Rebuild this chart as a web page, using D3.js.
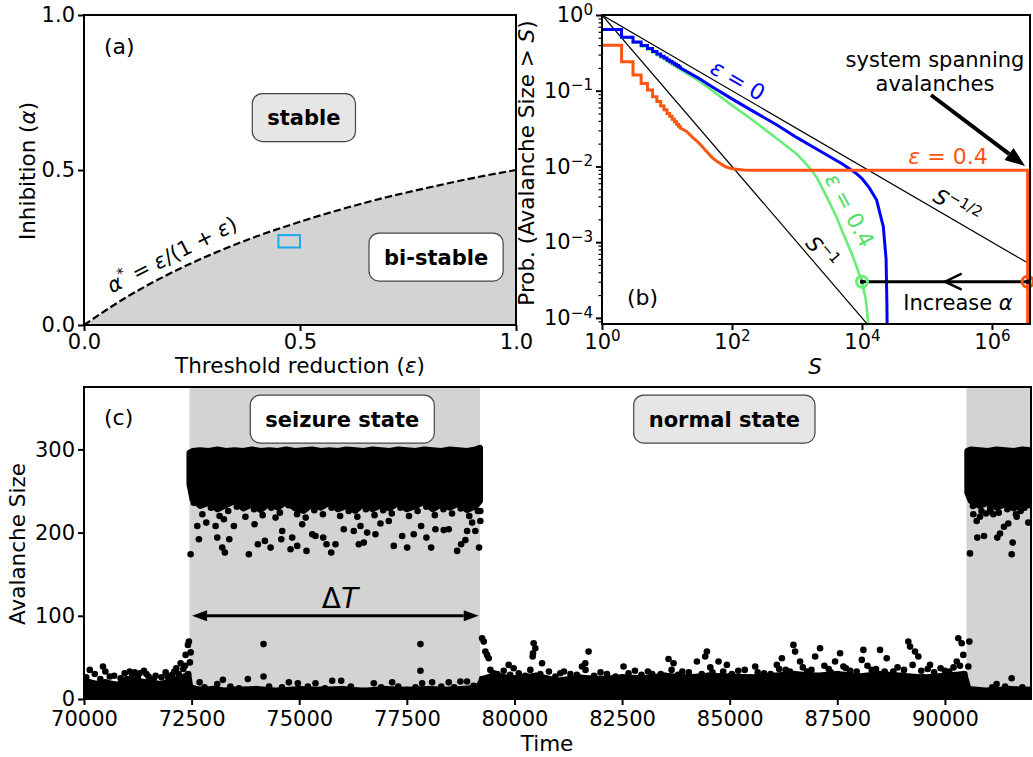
<!DOCTYPE html>
<html>
<head>
<meta charset="utf-8">
<script src="https://cdn.jsdelivr.net/npm/d3@7"></script>
<style>
  body { margin: 0; background: #fff; }
  svg { font-family: "DejaVu Sans", sans-serif; }
</style>
</head>
<body>
<svg id="fig" width="1033" height="757"></svg>
<script>
// ---------- data ----------

// (a) phase boundary alpha* = eps/(1+eps), read at eps = 0, 0.1, ... 1
var boundaryEps = [0, 0.1, 0.2, 0.3, 0.4, 0.5, 0.6, 0.7, 0.8, 0.9, 1.0];
var boundaryAlpha = [0, 0.091, 0.167, 0.231, 0.286, 0.333, 0.375, 0.412, 0.444, 0.474, 0.5];
var markedEps = [0.45, 0.5];
var markedAlpha = [0.25, 0.29];
var ticksA = [0, 0.5, 1];

// (b) avalanche size distributions P(size > S)
var stepSizes = [1, 2, 3, 4, 5, 6, 7, 8, 9, 10, 11, 12, 13, 14, 15];
var blueStepP = [0.645, 0.51, 0.44, 0.395, 0.36, 0.33, 0.305, 0.285, 0.27, 0.255, 0.243, 0.232, 0.223, 0.215, 0.208];
var blueTailS = [16, 20, 30, 50, 100, 200, 500, 1000, 2000, 5000, 8000, 10000, 13000, 16800, 21300, 23500, 24200, 24500];
var blueTailP = [0.2, 0.18, 0.148, 0.112, 0.078, 0.055, 0.035, 0.024, 0.017, 0.0108, 0.0082, 0.0069, 0.0052, 0.0036, 0.0016, 0.0006, 0.00015, 0.00005];
var greenStepP = [0.64, 0.5, 0.43, 0.385, 0.35, 0.32, 0.295, 0.275, 0.26, 0.245, 0.233, 0.222, 0.213, 0.205, 0.198];
var greenTailS = [16, 20, 30, 50, 100, 200, 500, 1000, 1580, 2000, 2860, 4000, 5140, 7000, 8300, 10000, 11500, 12600];
var greenTailP = [0.19, 0.17, 0.138, 0.1, 0.064, 0.042, 0.023, 0.0145, 0.0095, 0.0072, 0.004, 0.0022, 0.0013, 0.0007, 0.00047, 0.0003, 0.00017, 0.00008];
var orangeStepP = [0.4, 0.241, 0.161, 0.125, 0.102, 0.083, 0.072, 0.063, 0.056, 0.05, 0.046, 0.042, 0.039, 0.036, 0.034];
var orangeTailS = [16, 20, 25, 30, 40, 50, 60, 80, 100, 150, 200, 1000, 3540000, 3540000];
var orangeTailP = [0.032, 0.029, 0.024, 0.021, 0.016, 0.013, 0.0115, 0.0099, 0.0093, 0.009, 0.0089, 0.0089, 0.0089, 0.00005];
var refS1 = [1, 12000], refP1 = [1, 0.0000833];      // S^-1
var refS2 = [1, 3850000], refP2 = [1, 0.00051];      // S^-1/2
var markS = [10000, 3540000], markP = 0.0003;
var ticksBx = [1, 1e2, 1e4, 1e6];
var ticksBy = [1, 1e-1, 1e-2, 1e-3, 1e-4];

// (c) avalanche size time series
var seizureStart = [72450, 90500];
var seizureEnd = [79200, 92000];
var ticksCx = [70000, 72500, 75000, 77500, 80000, 82500, 85000, 87500, 90000];
var ticksCy = [0, 100, 200, 300];
// top of the dense low band [time, size]
var baseTop = [[70000,22],[70300,18],[70500,20],[70800,17],[71000,24],[71300,21],[71500,20],[71800,18],[72000,22],[72300,26],[72420,30],[72470,14],[72700,11],[73000,12],[73300,10],[73500,11],[74000,12],[74500,10],[75000,12],[75500,11],[76000,12],[76500,10],[77000,12],[77500,11],[78000,12],[78500,11],[79000,13],[79180,16],[79250,24],[79500,28],[80000,25],[80500,28],[81000,22],[81500,26],[82000,24],[82500,26],[83000,25],[83500,28],[84000,26],[84500,28],[85000,27],[85500,26],[86000,28],[86500,30],[87000,28],[87500,30],[88000,27],[88500,30],[89000,28],[89500,26],[90000,28],[90450,30],[90550,12],[91000,10],[91500,12],[92000,11]];
// dense seizure band [time, low, high]
var band1 = [[72450,258,296],[72520,240,298],[72700,232,299],[72900,236,298],[73100,228,300],[73300,233,298],[73500,238,299],[73700,229,298],[73900,234,300],[74100,227,298],[74300,235,299],[74500,230,298],[74700,237,300],[74900,229,298],[75100,226,299],[75300,234,300],[75500,230,298],[75700,236,299],[75900,228,298],[76100,232,300],[76300,226,299],[76500,235,298],[76700,228,300],[76900,233,299],[77100,229,298],[77300,236,300],[77500,228,299],[77700,232,298],[77900,237,300],[78100,228,299],[78300,234,298],[78500,230,300],[78700,235,299],[78900,227,298],[79100,232,300],[79200,238,302]];
var band2 = [[90520,248,298],[90600,238,300],[90800,232,299],[91000,236,298],[91200,230,300],[91400,234,299],[91600,229,298],[91800,235,300],[92000,232,299]];
// scattered large avalanches at and below the dense band
var highDots = [[72477,174],[72670,192],[72632,208],[72841,212],[73057,208],[73096,194],[73212,182],[73273,176],[73375,192],[73250,216],[73482,208],[73830,174],[73962,210],[74039,186],[74202,190],[74334,182],[74450,218],[74582,192],[74605,202],[74798,180],[74837,194],[74953,184],[75069,210],[75169,178],[75302,198],[75378,196],[75557,194],[75634,186],[75743,176],[75843,186],[76035,204],[76268,202],[76384,186],[76423,208],[76500,188],[76578,200],[76771,198],[76887,211],[77080,214],[77196,184],[77391,196],[77507,182],[77660,198],[77832,208],[77955,194],[78064,182],[78164,204],[78357,203],[78473,204],[78668,178],[78761,186],[78860,191],[78900,202],[79016,212],[79092,202],[79178,182],[79208,214],[79208,226],
  [90583,175],[90660,222],[90738,214],[90815,219],[90752,194],[90908,196],[90954,223],[91063,225],[91125,222],[91217,194],[91280,199],[91372,207],[91472,211],[91574,188],[91551,174],[91667,219],[91760,226],[91937,212],
  [72550,236],[72750,222],[72950,230],[73150,220],[73350,226],[73550,231],[73750,219],[73950,228],[74150,221],[74350,230],[74550,224],[74750,233],[74950,222],[75150,218],[75350,227],[75550,222],[75750,230],[75950,220],[76150,226],[76350,219],[76550,228],[76750,221],[76950,227],[77150,223],[77350,230],[77550,220],[77750,226],[77950,231],[78150,221],[78350,228],[78550,223],[78750,229],[78950,220],[79150,226],
  [90650,232],[90850,226],[91050,229],[91250,224],[91450,228],[91650,222],[91850,230]];
// scattered small avalanches above the low band
var lowDots = [[70134,35],[70441,39],[70496,33],[70945,31],[71061,33],[71177,32],[71293,31],[71393,34],[71665,28],[71897,32],[72145,37],[72245,43],[72307,36],[72361,53],[72414,65],[72437,69],[72477,56],[72460,44],
  [72686,20],[73096,18],[73227,23],[73807,24],[74171,66],[74171,27],[74759,20],[74968,19],[75378,19],[75766,22],[75975,22],[76732,19],[77159,20],[77816,66],[77816,34],[77855,19],[78087,20],[78473,20],[78745,21],[78899,21],
  [79248,73],[79286,69],[79324,57],[79364,53],[79402,49],[79440,35],[79518,31],[79673,27],[79866,41],[79982,37],[80369,35],[80446,67],[80485,61],[80423,51],[80641,43],[80562,23],[80431,55],[81066,31],[81722,57],[81645,43],[81569,39],[82534,39],[83580,48],[83696,43],[84239,45],[84471,57],[84432,51],[84741,45],[84935,41],[85593,39],[86096,41],[86212,49],[86481,65],[86520,57],[86636,45],[87100,61],[86985,51],[87565,55],[87449,45],[87642,39],[88106,59],[88069,47],[88493,59],[88648,49],[89150,69],[89190,63],[89306,57],[89383,51],[89654,41],[90311,73],[90390,67],[90427,53],[90274,45],[90567,69],[90544,39],[91201,18],[91550,25],
  [70700,28],[71500,27],[71800,26],[72050,29],[80800,33],[81300,30],[82000,32],[82800,34],[83200,30],[83900,33],[84600,32],[85200,34],[85800,31],[86300,35],[86800,33],[87300,36],[87800,34],[88300,35],[88800,33],[89600,36],[90000,34],[90200,38],
  [70050,26],[70250,30],[70380,24],[70600,27],[70850,25],[71120,29],[71250,26],[71450,30],[71620,24],[71950,27],[72100,33],[72200,30],[72350,40],
  [79600,30],[79750,34],[79900,29],[80100,31],[80250,28],[80600,30],[80950,27],[81150,33],[81450,29],[81650,35],[81850,28],[82150,30],[82350,27],[82650,31],[82950,29],[83100,33],[83400,30],[83650,35],[83800,29],[84050,32],[84350,30],[84550,38],[84850,33],[85050,30],[85350,35],[85650,32],[85950,30],[86150,36],[86400,33],[86700,38],[86900,35],[87200,40],[87350,32],[87700,37],[87950,33],[88200,40],[88400,36],[88600,33],[88900,38],[89050,35],[89250,41],[89450,34],[89750,32],[89900,37],[90100,33],[90350,40],
  [72800,14],[73400,15],[73600,13],[74300,15],[74600,14],[75200,15],[75600,13],[76200,15],[76900,14],[77300,15],[77700,14],[78300,15],[78600,14],[79050,16],[91100,14],[91400,15],[91800,14]];

// ---------- helpers ----------
var svg = d3.select("#fig");
svg.append("rect").attr("width", 1033).attr("height", 757).attr("fill", "#fff");
var defs = svg.append("defs");

function tidy(g, fs) {
  g.attr("font-family", null).attr("font-size", null);
  g.select(".domain").remove();
  g.selectAll(".tick line").attr("stroke", "#000").attr("stroke-width", 2);
  g.selectAll(".tick text").attr("fill", "#000").attr("font-size", fs || 21);
}

function powerLabels(g) {
  g.selectAll(".tick text").each(function (d) {
    var e = Math.round(Math.log10(d));
    var t = d3.select(this).text("");
    t.append("tspan").text("10");
    t.append("tspan").attr("dy", "-0.5em").attr("font-size", "0.72em").text(e < 0 ? "\u2212" + (-e) : e);
  });
}

function frame(g, x0, x1, y0, y1) {
  g.append("rect").attr("x", x0).attr("y", y0).attr("width", x1 - x0).attr("height", y1 - y0)
    .attr("fill", "none").attr("stroke", "#000").attr("stroke-width", 2);
}

// text made of pieces: "i" italic, "sup" raised small
function rich(parent, x, y, parts, size, anchor) {
  var t = parent.append("text").attr("x", x).attr("y", y).attr("font-size", size)
    .attr("text-anchor", anchor || "middle");
  var up = false;
  parts.forEach(function (p) {
    var s = t.append("tspan").text(p[0]);
    if (p[1] === "i") s.attr("font-style", "italic");
    if (p[1] === "sup") {
      s.attr("font-size", size * 0.7).attr("dy", -size * 0.42);
      up = true;
    } else if (up) {
      s.attr("dy", size * 0.42);
      up = false;
    }
  });
  return t;
}

function rotated(parent, cx, cy, angle) {
  return parent.append("g").attr("transform", "translate(" + cx + "," + cy + ") rotate(" + angle + ")");
}

function boxLabel(parent, cx, cy, text, fill) {
  var g = parent.append("g");
  var t = g.append("text").attr("x", cx).attr("y", cy).attr("dy", "0.36em")
    .attr("text-anchor", "middle").attr("font-weight", "bold").attr("font-size", 21).text(text);
  var bb = t.node().getBBox();
  g.insert("rect", "text").attr("x", bb.x - 15).attr("y", cy - 24)
    .attr("width", bb.width + 30).attr("height", 48).attr("rx", 10)
    .attr("fill", fill).attr("stroke", "#444").attr("stroke-width", 1.2);
}

function arrowHead(parent, x1, y1, x2, y2, len, wid) {
  var a = Math.atan2(y2 - y1, x2 - x1);
  var bx = x2 - len * Math.cos(a), by = y2 - len * Math.sin(a);
  var nx = -Math.sin(a) * wid / 2, ny = Math.cos(a) * wid / 2;
  parent.append("path")
    .attr("d", "M" + x2 + "," + y2 + "L" + (bx + nx) + "," + (by + ny) + "L" + (bx - nx) + "," + (by - ny) + "Z")
    .attr("fill", "#000");
  return [bx, by];
}

function stairs(sizes, probs, tailS, tailP) {
  var pts = [];
  sizes.forEach(function (s, i) {
    var next = i < sizes.length - 1 ? sizes[i + 1] : tailS[0];
    pts.push([s, probs[i]]);
    pts.push([next, probs[i]]);
  });
  tailS.forEach(function (s, i) { pts.push([s, tailP[i]]); });
  return pts;
}

// ---------- panel (a) ----------
var A = { l: 84, r: 516, t: 15, b: 325 };
var xA = d3.scaleLinear().domain([0, 1]).range([A.l, A.r]);
var yA = d3.scaleLinear().domain([0, 1]).range([A.b, A.t]);
var gA = svg.append("g");
var boundary = boundaryEps.map(function (e, i) { return [e, boundaryAlpha[i]]; });

gA.append("path").datum(boundary)
  .attr("d", d3.area().x(function (d) { return xA(d[0]); }).y0(yA(0))
    .y1(function (d) { return yA(d[1]); }).curve(d3.curveMonotoneX))
  .attr("fill", "#d3d3d3");
gA.append("path").datum(boundary)
  .attr("d", d3.line().x(function (d) { return xA(d[0]); })
    .y(function (d) { return yA(d[1]); }).curve(d3.curveMonotoneX))
  .attr("fill", "none").attr("stroke", "#000").attr("stroke-width", 2.2)
  .attr("stroke-dasharray", "7.4 3.2");
gA.append("rect")
  .attr("x", xA(markedEps[0])).attr("y", yA(markedAlpha[1]))
  .attr("width", xA(markedEps[1]) - xA(markedEps[0]))
  .attr("height", yA(markedAlpha[0]) - yA(markedAlpha[1]))
  .attr("fill", "none").attr("stroke", "#1eaaf0").attr("stroke-width", 2);

boxLabel(gA, xA(0.509), yA(0.669), "stable", "#e6e6e6");
boxLabel(gA, xA(0.815), yA(0.219), "bi-stable", "#ffffff");
rich(rotated(gA, 172, 255, -27), 0, 7,
  [["\u03b1", "i"], ["*", "sup"], [" = ", ""], ["\u03b5", "i"], ["/(1 + ", ""], ["\u03b5", "i"], [")", ""]], 21);
gA.append("text").attr("x", 104).attr("y", 54).attr("font-size", 22).text("(a)");

frame(gA, A.l, A.r, A.t, A.b);
gA.append("g").attr("transform", "translate(0," + A.b + ")")
  .call(d3.axisBottom(xA).tickValues(ticksA).tickFormat(d3.format(".1f")).tickSize(6).tickPadding(3).tickSizeOuter(0))
  .call(tidy);
gA.append("g").attr("transform", "translate(" + A.l + ",0)")
  .call(d3.axisLeft(yA).tickValues(ticksA).tickFormat(d3.format(".1f")).tickSize(6).tickPadding(3).tickSizeOuter(0))
  .call(tidy);
rich(rotated(gA, 28, 171, -90), 0, 7, [["Inhibition (", ""], ["\u03b1", "i"], [")", ""]], 21.5);
rich(gA, 300, 373, [["Threshold reduction (", ""], ["\u03b5", "i"], [")", ""]], 21.5);

// ---------- panel (b) ----------
var B = { l: 602, r: 1030, t: 15, b: 324 };
var xB = d3.scaleLog().domain([1, 3850000]).range([B.l, B.r]);
var yB = d3.scaleLog().domain([0.000083, 1]).range([B.b, B.t]);
var gB = svg.append("g");
defs.append("clipPath").attr("id", "clipB").append("rect")
  .attr("x", B.l).attr("y", B.t).attr("width", B.r - B.l).attr("height", B.b - B.t);
var plotB = gB.append("g").attr("clip-path", "url(#clipB)");
var lineB = d3.line().x(function (d) { return xB(d[0]); }).y(function (d) { return yB(d[1]); });

[[refS1, refP1], [refS2, refP2]].forEach(function (r) {
  plotB.append("path").datum(r[0].map(function (s, i) { return [s, r[1][i]]; }))
    .attr("d", lineB).attr("fill", "none").attr("stroke", "#000").attr("stroke-width", 1.2);
});
plotB.append("path").datum(stairs(stepSizes, greenStepP, greenTailS, greenTailP))
  .attr("d", lineB).attr("fill", "none").attr("stroke", "#66ee77").attr("stroke-width", 2.6);
plotB.append("path").datum(stairs(stepSizes, blueStepP, blueTailS, blueTailP))
  .attr("d", lineB).attr("fill", "none").attr("stroke", "#0000ff").attr("stroke-width", 3);
plotB.append("path").datum(stairs(stepSizes, orangeStepP, orangeTailS, orangeTailP))
  .attr("d", lineB).attr("fill", "none").attr("stroke", "#ff5512").attr("stroke-width", 3);

// increase-alpha arrow
var yMark = yB(markP);
gB.append("line").attr("x1", xB(markS[1])).attr("x2", xB(markS[0])).attr("y1", yMark).attr("y2", yMark)
  .attr("stroke", "#000").attr("stroke-width", 3);
gB.append("path").attr("d", "M961.7," + (yMark - 8) + "L945," + yMark + "L961.7," + (yMark + 8))
  .attr("fill", "none").attr("stroke", "#000").attr("stroke-width", 2.5);
[["#66ee77", markS[0]], ["#ff5512", markS[1]]].forEach(function (m) {
  gB.append("circle").attr("cx", xB(m[1])).attr("cy", yMark).attr("r", 5.5)
    .attr("fill", "none").attr("stroke", m[0]).attr("stroke-width", 3);
  gB.append("circle").attr("cx", xB(m[1])).attr("cy", yMark).attr("r", 2.2).attr("fill", "#000");
});

// system spanning arrow
var base = arrowHead(gB, 931, 95, 1025, 166, 20, 15);
gB.append("line").attr("x1", 931).attr("y1", 95).attr("x2", base[0]).attr("y2", base[1])
  .attr("stroke", "#000").attr("stroke-width", 4);
gB.append("text").attr("x", 935).attr("y", 67).attr("text-anchor", "middle").attr("font-size", 21).text("system spanning");
gB.append("text").attr("x", 935).attr("y", 91).attr("text-anchor", "middle").attr("font-size", 21).text("avalanches");

rich(gB, 948, 164, [["\u03b5", "i"], [" = 0.4", ""]], 22).attr("fill", "#ff5512");
rich(rotated(gB, 738, 80, 30), 0, 8, [["\u03b5", "i"], [" = 0", ""]], 22).attr("fill", "#0000ff");
rich(rotated(gB, 850, 210, 62), 0, 8, [["\u03b5", "i"], [" = 0.4", ""]], 22).attr("fill", "#55dd6a");
rich(rotated(gB, 957, 206, 30), 0, 8, [["S", "i"], ["\u22121/2", "sup"]], 21);
rich(rotated(gB, 822, 252, 49), 0, 8, [["S", "i"], ["\u22121", "sup"]], 21);
rich(gB, 958, 310, [["Increase ", ""], ["\u03b1", "i"]], 21);
gB.append("text").attr("x", 627).attr("y", 305).attr("font-size", 22).text("(b)");

frame(gB, B.l, B.r, B.t, B.b);
gB.append("g").attr("transform", "translate(0," + B.b + ")")
  .call(d3.axisBottom(xB).tickValues(ticksBx).tickSize(6).tickPadding(4).tickSizeOuter(0))
  .call(tidy).call(powerLabels);
var minorY = yB.ticks().filter(function (d) { return ticksBy.indexOf(d) < 0; });
gB.append("g").attr("transform", "translate(" + B.l + ",0)")
  .call(d3.axisLeft(yB).tickValues(minorY).tickFormat("").tickSize(3.5).tickSizeOuter(0))
  .call(tidy).selectAll(".tick line").attr("stroke-width", 1.2);
gB.append("g").attr("transform", "translate(" + B.l + ",0)")
  .call(d3.axisLeft(yB).tickValues(ticksBy).tickSize(6).tickPadding(3).tickSizeOuter(0))
  .call(tidy).call(powerLabels);
rich(rotated(gB, 527, 163, -90), 0, 7,
  [["Prob. (Avalanche Size > ", ""], ["S", "i"], [")", ""]], 21.5);
rich(gB, 815, 374, [["S", "i"]], 21.5);

// ---------- panel (c) ----------
var C = { l: 84, r: 1031, t: 387, b: 699 };
var xC = d3.scaleLinear().domain([70000, 92000]).range([C.l, C.r]);
var yC = d3.scaleLinear().domain([0, 375]).range([C.b, C.t]);
var gC = svg.append("g");
defs.append("clipPath").attr("id", "clipC").append("rect")
  .attr("x", C.l).attr("y", C.t).attr("width", C.r - C.l).attr("height", C.b - C.t);
var plotC = gC.append("g").attr("clip-path", "url(#clipC)");

seizureStart.forEach(function (s, i) {
  plotC.append("rect").attr("x", xC(s)).attr("y", C.t)
    .attr("width", xC(seizureEnd[i]) - xC(s)).attr("height", C.b - C.t).attr("fill", "#d3d3d3");
});

plotC.append("path").datum(baseTop)
  .attr("d", d3.area().x(function (d) { return xC(d[0]); }).y0(yC(0)).y1(function (d) { return yC(d[1]); }))
  .attr("fill", "#000").attr("stroke", "#000").attr("stroke-width", 6).attr("stroke-linejoin", "round");

[band1, band2].forEach(function (band) {
  plotC.append("path").datum(band)
    .attr("d", d3.area().x(function (d) { return xC(d[0]); })
      .y0(function (d) { return yC(d[1]); }).y1(function (d) { return yC(d[2]); }))
    .attr("fill", "#000").attr("stroke", "#000").attr("stroke-width", 6).attr("stroke-linejoin", "round");
});

var dots = baseTop.concat(lowDots, highDots);
plotC.selectAll("circle.dot").data(dots).enter().append("circle").attr("class", "dot")
  .attr("cx", function (d) { return xC(d[0]); }).attr("cy", function (d) { return yC(d[1]); })
  .attr("r", 3.3).attr("fill", "#000");

boxLabel(gC, xC(76000), yC(336.5), "seizure state", "#ffffff");
boxLabel(gC, xC(84876), yC(336.5), "normal state", "#e6e6e6");

// Delta T double arrow
var yArrow = yC(100);
var left = arrowHead(gC, xC(79170), yArrow, xC(72510), yArrow, 15, 11);
var right = arrowHead(gC, xC(72510), yArrow, xC(79170), yArrow, 15, 11);
gC.append("line").attr("x1", left[0]).attr("x2", right[0]).attr("y1", yArrow).attr("y2", yArrow)
  .attr("stroke", "#000").attr("stroke-width", 3);
rich(gC, 340, 608, [["\u0394", ""], ["T", "i"]], 28);
gC.append("text").attr("x", 104).attr("y", 425).attr("font-size", 22).text("(c)");

frame(gC, C.l, C.r, C.t, C.b);
gC.append("g").attr("transform", "translate(0," + C.b + ")")
  .call(d3.axisBottom(xC).tickValues(ticksCx).tickFormat(d3.format("d")).tickSize(6).tickPadding(6).tickSizeOuter(0))
  .call(tidy);
gC.append("g").attr("transform", "translate(" + C.l + ",0)")
  .call(d3.axisLeft(yC).tickValues(ticksCy).tickSize(6).tickPadding(3).tickSizeOuter(0))
  .call(tidy);
rich(rotated(gC, 18, 544, -90), 0, 7, [["Avalanche Size", ""]], 21.5);
gC.append("text").attr("x", 547).attr("y", 751).attr("text-anchor", "middle").attr("font-size", 21.5).text("Time");
</script>
</body>
</html>
